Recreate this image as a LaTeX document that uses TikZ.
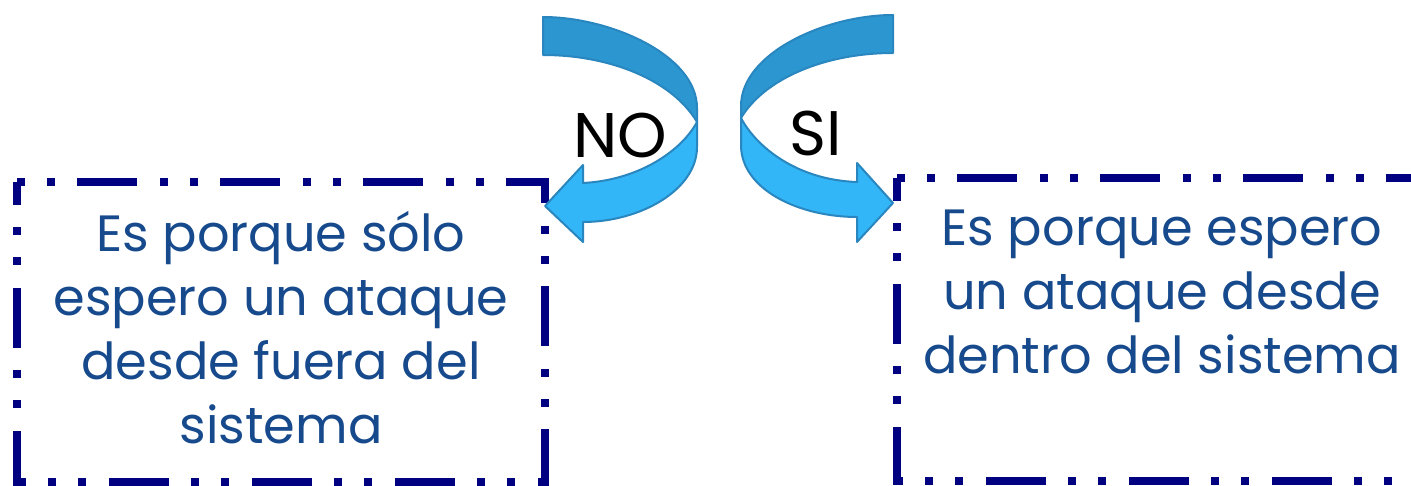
\documentclass[tikz,border=0pt]{standalone}
\usepackage{fontspec}
\setmainfont{Poppins}
\definecolor{boxblue}{HTML}{000080}
\definecolor{txtblue}{HTML}{174A8C}
\definecolor{ribbondark}{HTML}{2B96D0}
\definecolor{ribbonlight}{HTML}{33B6F7}
\definecolor{ribbonedge}{HTML}{2A86BE}
\tikzset{
  boxline/.style={draw=boxblue, line width=7.5pt, line cap=butt, line join=miter,
    dash pattern=on 60pt off 23pt on 8pt off 22pt on 8pt off 22pt, dash phase=83pt},
  boxtext/.style={text=txtblue, align=center, inner sep=0pt, anchor=base,
    font=\fontsize{51}{64}\selectfont},
  ribbonback/.style={fill=ribbondark, draw=ribbonedge, line width=2pt, line join=round},
  ribbonfront/.style={fill=ribbonlight, draw=ribbonedge, line width=2pt, line join=round},
  answer/.style={text=black, inner sep=0pt, anchor=base, font=\fontsize{63}{70}\selectfont}
}
\begin{document}
\begin{tikzpicture}[x=1pt, y=-1pt]
\useasboundingbox (0,0) rectangle (1411,485);
\begin{scope}
\clip (0,0) rectangle (1411,485);
% dashed frames
\coordinate (lnw) at (17,182);  \coordinate (lse) at (545,482);
\coordinate (rnw) at (897,178); \coordinate (rse) at (1422,481);
\draw[boxline] (lnw) -- (lnw -| lse) -- (lse) -- (lse -| lnw) -- cycle;
\draw[boxline] (rnw) -- (rnw -| rse) -- (rse) -- (rse -| rnw) -- cycle;
\end{scope}

% curved ribbon arrow to the left (NO)
\draw[ribbonback] (543,17) .. controls (610,17) and (697,55) .. (697,108)
  -- (697,122) .. controls (672,80) and (610,55) .. (543,55) -- cycle;
\draw[ribbonfront] (697,122) -- (697,147) .. controls (697,190) and (640,222) .. (583,222)
  -- (583,242) -- (545,206) -- (583,165) -- (583,183)
  .. controls (640,180) and (682,150) .. (697,122) -- cycle;

% curved ribbon arrow to the right (SI)
\draw[ribbonback] (893,15) .. controls (826,15) and (741,53) .. (741,106)
  -- (741,118) .. controls (765,78) and (826,53) .. (893,53) -- cycle;
\draw[ribbonfront] (741,118) -- (741,145) .. controls (741,190) and (800,217) .. (857,217)
  -- (857,242) -- (893,203) -- (857,163) -- (857,182)
  .. controls (798,180) and (757,148) .. (741,118) -- cycle;

% answers
\node[answer] (no) at (620,157) {NO};
\node[answer] (si) at (816,155) {SI};

% box texts (anchored at the baseline of their last line)
\node[boxtext] (ltext) at (281,443) {Es porque sólo\\espero un ataque\\desde fuera del\\sistema};
\node[boxtext] (rtext) at (1162,373) {Es porque espero\\un ataque desde\\dentro del sistema};
\end{tikzpicture}
\end{document}
